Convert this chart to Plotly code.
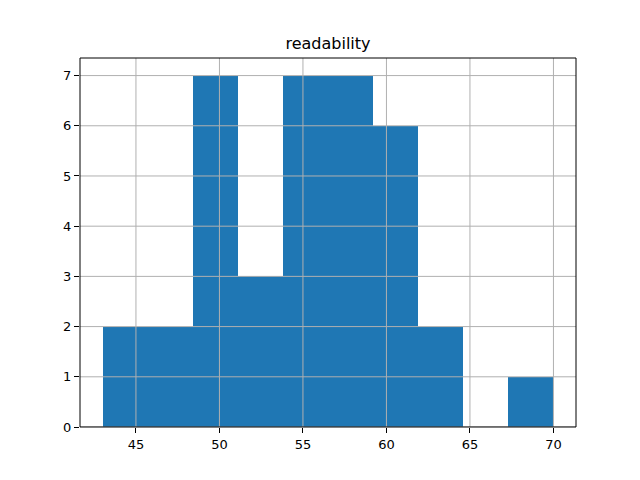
import plotly.graph_objects as go

bin_edges = [43.0, 45.7, 48.4, 51.1, 53.8, 56.5, 59.2, 61.9, 64.6, 67.3, 70.0]
counts = [2, 2, 7, 3, 7, 7, 6, 2, 0, 1]
x_ticks = [45, 50, 55, 60, 65, 70]
y_ticks = [0, 1, 2, 3, 4, 5, 6, 7]

centers = [(a + b) / 2 for a, b in zip(bin_edges[:-1], bin_edges[1:])]
widths = [b - a for a, b in zip(bin_edges[:-1], bin_edges[1:])]

fig = go.Figure(go.Bar(x=centers, y=counts, width=widths,
                       marker=dict(color="#1f77b4", line=dict(width=0))))

grid_line = dict(color="#b0b0b0", width=1)
shapes = []
for t in x_ticks:
    shapes.append(dict(type="line", xref="x", yref="paper", x0=t, x1=t, y0=0, y1=1,
                       line=grid_line, layer="above"))
for t in y_ticks:
    shapes.append(dict(type="line", xref="paper", yref="y", x0=0, x1=1, y0=t, y1=t,
                       line=grid_line, layer="above"))
shapes.append(dict(type="rect", xref="paper", yref="paper", x0=0, x1=1, y0=0, y1=1,
                   line=dict(color="black", width=1), layer="above"))

span = bin_edges[-1] - bin_edges[0]
axis_common = dict(showline=False,
                   ticks="outside", ticklen=5, tickcolor="black",
                   showgrid=False, zeroline=False,
                   tickfont=dict(family="DejaVu Sans", size=13, color="black"))
fig.update_layout(
    width=640, height=480,
    margin=dict(l=72, r=72, t=50, b=61),
    paper_bgcolor="white", plot_bgcolor="white",
    title=dict(text="readability", x=0.5, xanchor="center", y=1 - 35 / 480, yanchor="middle",
               font=dict(family="DejaVu Sans", size=16, color="black")),
    xaxis=dict(range=[bin_edges[0] - 0.05 * span, bin_edges[-1] + 0.05 * span],
               tickvals=x_ticks, **axis_common),
    yaxis=dict(range=[0, max(counts) * 1.05], tickvals=y_ticks, **axis_common),
    shapes=shapes,
    bargap=0, showlegend=False,
)
fig.write_html("out.html")
